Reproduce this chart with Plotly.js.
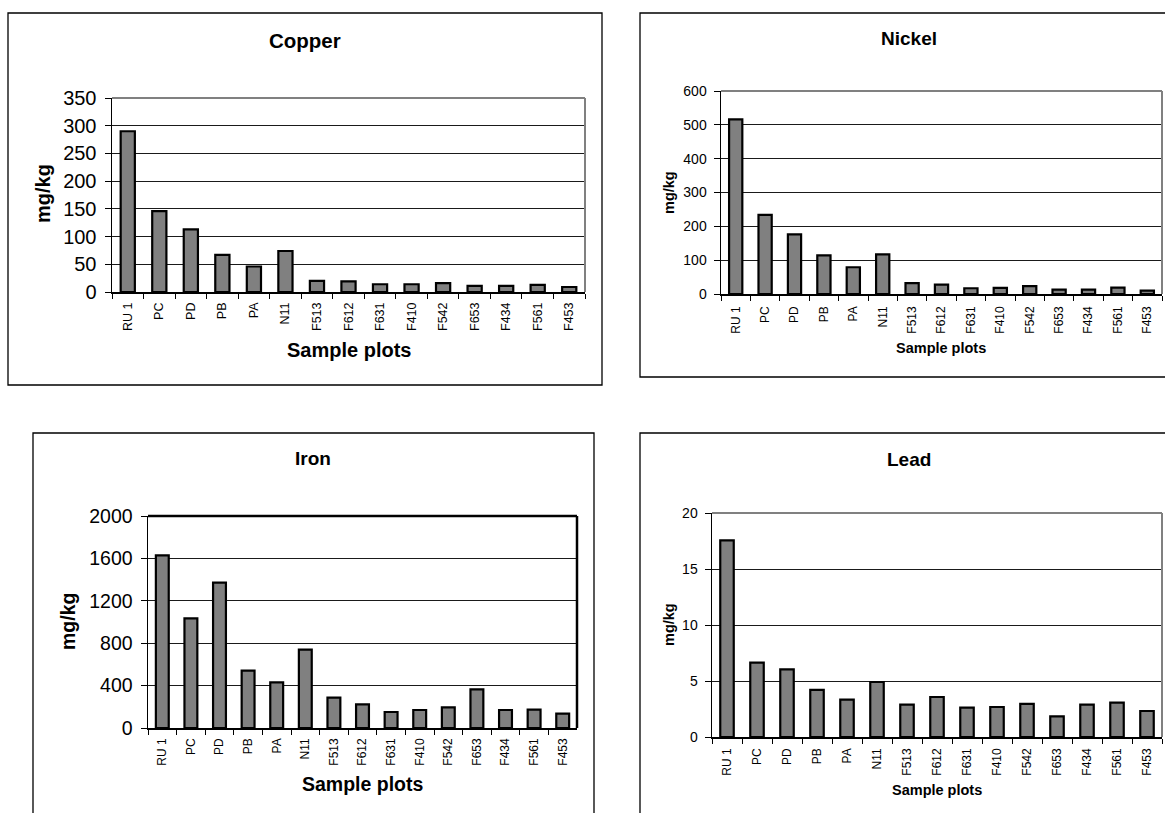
<!DOCTYPE html>
<html>
<head>
<meta charset="utf-8">
<script src="https://cdn.plot.ly/plotly-3.0.1.min.js"></script>
<style>
html,body{margin:0;padding:0;background:#fff;}
#chart{width:1165px;height:813px;}
</style>
</head>
<body>
<div id="chart"></div>
<script>
// ---- data ----
const categories = ['RU 1','PC','PD','PB','PA','N11','F513','F612','F631','F410','F542','F653','F434','F561','F453'];
const copper = [290,146,113,67,46,74,20,19,14,14,16,11,11,13,9];
const nickel = [516,234,176,114,79,117,32,28,17,18,23,13,13,19,10];
const iron   = [1629,1035,1371,541,431,739,286,223,151,170,195,365,170,173,135];
const lead   = [17.56,6.64,6.04,4.2,3.33,4.91,2.89,3.57,2.62,2.68,2.95,1.85,2.89,3.07,2.32];
const chartTitles = ['Copper','Nickel','Iron','Lead'];
const xTitle = 'Sample plots';
const yTitle = 'mg/kg';
const yRanges = [[0,350],[0,600],[0,2000],[0,20]];
const yDticks = [50,100,400,5];

// ---- layout geometry (pixels) ----
const W = 1165, H = 813;
const px = x => x / W;
const py = y => 1 - y / H;
const FONT = 'Liberation Sans, Arial, sans-serif';

const panels = [
  {data: copper, plot:[112,585,98,292], frame:[8,602,13,385], title:[305,40], xt:[349,350], yt:[43,194],
   fTitle:20.5, fYtick:20, fXtick:12.5, fAxis:20, border:'#808080', bw:2, xso:4},
  {data: nickel, plot:[721,1162,91,294], frame:[640,1180,13,377], title:[909,38], xt:[941,348], yt:[669,193],
   fTitle:19, fYtick:14, fXtick:12, fAxis:14.5, border:'#808080', bw:2, xso:6},
  {data: iron, plot:[148,577,516,728], frame:[33,594,433,830], title:[313,458], xt:[363,784], yt:[68,622],
   fTitle:19, fYtick:19.5, fXtick:12, fAxis:19.5, border:'#000000', bw:2.5, xso:4},
  {data: lead, plot:[712,1162,513,737], frame:[640,1180,433,830], title:[909,459], xt:[937,790], yt:[669,625],
   fTitle:19, fYtick:14, fXtick:12, fAxis:14.5, border:'#808080', bw:2, xso:5}
];

const traces = [];
const layout = {
  width: W, height: H,
  margin: {l:0, r:0, t:0, b:0},
  paper_bgcolor: '#ffffff',
  plot_bgcolor: '#ffffff',
  showlegend: false,
  bargap: 0.55,
  shapes: [],
  annotations: [],
  font: {family: FONT, color: '#000'}
};

panels.forEach((p, i) => {
  const n = i + 1;
  const xa = n === 1 ? 'x' : 'x' + n;
  const ya = n === 1 ? 'y' : 'y' + n;
  traces.push({
    type: 'bar', x: categories, y: p.data, xaxis: xa, yaxis: ya,
    marker: {color: '#808080', line: {color: '#000000', width: 2.2}},
    hoverinfo: 'x+y'
  });
  const xKey = n === 1 ? 'xaxis' : 'xaxis' + n;
  const yKey = n === 1 ? 'yaxis' : 'yaxis' + n;
  layout[xKey] = {
    domain: [px(p.plot[0]), px(p.plot[1])],
    anchor: ya,
    type: 'category',
    range: [-0.5, categories.length - 0.5],
    tickangle: -90,
    tickfont: {family: FONT, size: p.fXtick, color: '#000'},
    ticks: 'outside', tickson: 'boundaries', ticklen: 5, tickcolor: '#000', tickwidth: 1,
    ticklabelstandoff: p.xso,
    showline: true, linecolor: '#000', linewidth: 1.5,
    showgrid: false, zeroline: false, fixedrange: true
  };
  layout[yKey] = {
    domain: [py(p.plot[3]), py(p.plot[2])],
    anchor: xa,
    range: yRanges[i], dtick: yDticks[i], tick0: 0,
    tickfont: {family: FONT, size: p.fYtick, color: '#000'},
    ticks: 'outside', ticklen: 6, tickcolor: '#000', tickwidth: 1,
    ticklabelstandoff: 4,
    showline: true, linecolor: '#000', linewidth: 1.5,
    showgrid: true, gridcolor: '#1a1a1a', gridwidth: 1,
    zeroline: false, fixedrange: true
  };
  // plot-area top and right border
  layout.shapes.push({type:'line', xref: xa + ' domain', yref: ya + ' domain', x0:0, x1:1, y0:1, y1:1,
    line:{color:p.border, width:p.bw}});
  layout.shapes.push({type:'line', xref: xa + ' domain', yref: ya + ' domain', x0:1, x1:1, y0:0, y1:1,
    line:{color:p.border, width:p.bw}});
  // outer frame
  layout.shapes.push({type:'rect', xref:'paper', yref:'paper',
    x0: px(p.frame[0]), x1: px(p.frame[1]), y0: py(p.frame[3]), y1: py(p.frame[2]),
    line:{color:'#000', width:1.3}, fillcolor:'rgba(0,0,0,0)'});
  // titles
  layout.annotations.push({text:'<b>' + chartTitles[i] + '</b>', xref:'paper', yref:'paper',
    x: px(p.title[0]), y: py(p.title[1]), xanchor:'center', yanchor:'middle', showarrow:false,
    font:{family:FONT, size:p.fTitle, color:'#000'}});
  layout.annotations.push({text:'<b>' + xTitle + '</b>', xref:'paper', yref:'paper',
    x: px(p.xt[0]), y: py(p.xt[1]), xanchor:'center', yanchor:'middle', showarrow:false,
    font:{family:FONT, size:p.fAxis, color:'#000'}});
  layout.annotations.push({text:'<b>' + yTitle + '</b>', xref:'paper', yref:'paper',
    x: px(p.yt[0]), y: py(p.yt[1]), xanchor:'center', yanchor:'middle', showarrow:false, textangle:-90,
    font:{family:FONT, size:p.fAxis, color:'#000'}});
});

Plotly.newPlot('chart', traces, layout, {displayModeBar:false, staticPlot:true});
</script>
</body>
</html>
